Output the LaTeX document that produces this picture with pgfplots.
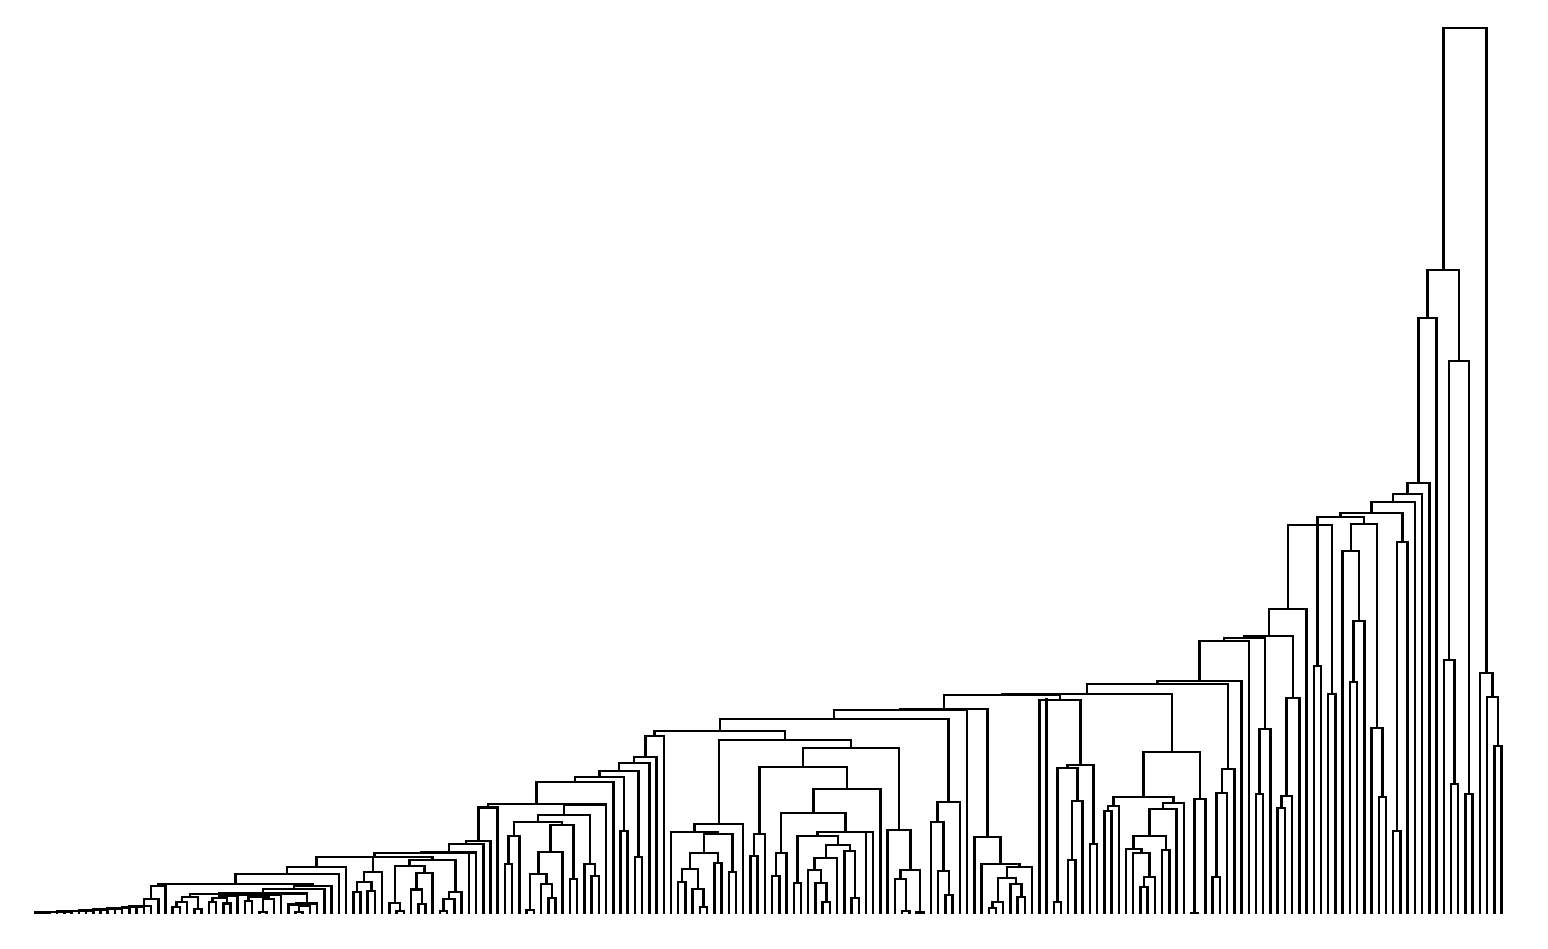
\documentclass[border=0pt]{standalone}
\usepackage{pgfplots}
\usepackage{pgfplotstable}
\pgfplotsset{compat=1.18}
% each row is one merge: left child (xl, height yl), right child (xr, height yr), merge height yt
% x = leaf index, heights in picture units (baseline 913, larger = lower)
\pgfplotstableread{
xl yl xr yr yt
0 913 1 913 912.6
0.5 912.6 2 913 912.4
1.25 912.4 3 913 912.2
2.125 912.2 4 913 912
3.06 912 5 913 911.6
4.03 911.6 6 913 911.2
5.02 911.2 7 913 910.8
6.01 910.8 8 913 910.4
7.0 910.4 9 913 910
8.0 910 10 913 909.5
9.0 909.5 11 913 909
10.0 909 12 913 908.5
11.0 908.5 13 913 908
12.0 908 14 913 907
13.0 907 15 913 906.5
14.0 906.5 16 913 906
15.0 906 17 913 899
16.0 899 18 913 886
19 913 20 913 906.7
19.5 906.7 21 913 901.7
22 913 23 913 909
20.25 901.7 22.5 909 897
24 913 25 913 901.7
26 913 27 913 903.3
24.5 901.7 26.5 903.3 898
25.5 898 28 913 896
29 913 30 913 900.7
31 913 32 913 911.7
31.5 911.7 33 913 899
29.5 900.7 32.25 899 896.7
30.88 896.7 34 913 895
26.75 896 32.44 895 894.5
21.38 897 29.6 894.5 894
36 913 37 913 911.7
36.5 911.7 38 913 906
35 913 37.25 906 904.5
36.13 904.5 39 913 903.3
25.49 894 37.56 903.3 893.3
31.53 893.3 40 913 889
35.76 889 41 913 886
17.0 886 38.38 886 884
27.69 884 42 913 874
34.85 874 43 913 866.7
44 913 45 913 892
46 913 47 913 891
44.5 892 46.5 891 882
45.5 882 48 913 872
46.75 872 46.75 872 857
50 913 51 913 910.7
49 913 50.5 910.7 902.7
53 913 54 913 904
52 913 53.5 904 889.3
52.75 889.3 55 913 872.7
49.75 902.7 53.88 872.7 866
56 913 57 913 910.7
56.5 910.7 58 913 899
57.25 899 59 913 892
51.81 866 58.13 892 860
38.92 866.7 54.97 860 857
46.95 857 60 913 853
53.47 853 61 913 852.3
57.24 852.3 62 913 844
59.62 844 63 913 840.7
61.31 840.7 64 913 807.3
65 913 66 913 864
65.5 864 67 913 836
68 913 69 913 910
71 913 72 913 898
70 913 71.5 898 884
68.5 910 70.75 884 874
69.63 874 73 913 852
74 913 75 913 879
71.31 852 74.5 879 825
66.25 836 72.91 825 822
77 913 78 913 876
76 913 77.5 876 864
69.58 822 76.75 864 815
73.17 815 79 913 804.3
62.65 807.3 76.08 804.3 804
69.37 804 80 913 782
81 913 82 913 831
74.68 782 81.5 831 777
83 913 84 913 857
78.09 777 83.5 857 771
80.8 771 85 913 763
82.9 763 86 913 757
84.45 757 87 913 736
89 913 90 913 882
92 913 93 913 907
91 913 92.5 907 889
89.5 882 91.75 889 869
94 913 95 913 863
90.63 869 94.5 863 853
96 913 97 913 872
92.56 853 96.5 872 834
88 913 94.53 834 832
91.27 832 98 913 824
99 913 100 913 856
99.5 856 101 913 834
102 913 103 913 876
102.5 876 104 913 853
105 913 106 913 883
109 913 110 913 902
108 913 109.5 902 883
107 913 108.75 883 870
107.88 870 111 913 858
113 913 114 913 898
112 913 113.5 898 851
109.44 858 112.75 851 845
105.5 883 111.1 845 836
108.3 836 116 913 832
115 913 115 913 832
103.25 853 112.15 832 813
107.7 813 117 913 789
100.25 834 112.35 789 767
120 913 121 913 911
119 913 120.5 911 879
122 913 123 913 912.5
119.75 879 122.5 912.5 870
118 913 121.13 870 830
106.3 767 119.56 830 748
94.63 824 112.93 748 740
85.72 736 103.78 740 731
126 913 127 913 895
125 913 126.5 895 871
124 913 125.75 871 822
124.88 822 128 913 802
94.75 731 126.44 802 719
110.6 719 129 913 710
132 913 133 913 908
132.5 908 134 913 902
136 913 137 913 897
135 913 136.5 897 884
133.25 902 135.75 884 878
134.5 878 138 913 867
131 913 136.25 867 864
130 913 133.63 864 837
119.8 710 131.81 837 709
141 913 142 913 902
143 913 144 913 860
143.5 860 145 913 801
141.5 902 144.25 801 768
146 913 147 913 844
142.88 768 146.5 844 765
139 913 144.69 765 700
140 913 140 913 699.3
125.8 709 141.85 700 695
148 913 149 913 811
148.5 811 150 913 806
153 913 154 913 887
153.5 887 155 913 877
152 913 154.25 877 853
151 913 153.13 853 849
156 913 157 913 850
152.06 849 156.5 850 836
154.28 836 158 913 809
156.14 809 159 913 803
149.25 806 157.57 803 797
160 913 161 913 913
160.5 913 162 913 799
153.41 797 161.25 799 752
133.8 695 157.33 752 694
163 913 164 913 877
163.5 877 165 913 793
164.25 793 166 913 769
145.56 694 165.13 769 684
155.34 684 167 913 681
161.17 681 168 913 641
169 913 170 913 794
169.5 794 171 913 729
164.59 641 170.25 729 638
172 913 173 913 808
172.5 808 174 913 796
173.25 796 175 913 698
167.42 638 174.13 698 636
170.77 636 176 913 609
179 913 180 913 694
173.39 609 179.5 694 525
177 913 178 913 666
182 913 183 913 682
182.5 682 184 913 621
181 913 183.25 621 551
186 913 187 913 797
185 913 186.5 797 728
182.13 551 185.75 728 524
177.5 666 183.94 524 517
188 913 189 913 831
188.5 831 190 913 542
180.72 517 189.25 542 513
184.98 513 191 913 502
187.99 502 192 913 494
189.99 494 193 913 483
191.5 483 194 913 318
196 913 197 913 784
195 913 196.5 784 660
198 913 199 913 794
195.75 660 198.5 794 361
192.75 318 197.13 361 270
202 913 203 913 746
201 913 202.5 746 697
200 913 201.75 697 673
194.94 270 200.88 673 28
}\links
\begin{document}
\begin{tikzpicture}
\begin{axis}[hide axis, scale only axis, width=15.48cm, height=9.48cm,
  xmin=-4.916, xmax=209.43, ymin=0, ymax=948, y dir=reverse, clip=false]
\path (rel axis cs:0,0) rectangle (rel axis cs:1,1);
\addplot[black, line width=0.7pt, line cap=rect, quiver={u=0, v=\thisrow{yt}-\thisrow{yl}}] table[x=xl, y=yl]{\links};
\addplot[black, line width=0.7pt, line cap=rect, quiver={u=0, v=\thisrow{yt}-\thisrow{yr}}] table[x=xr, y=yr]{\links};
\addplot[black, line width=0.7pt, line cap=rect, quiver={u=\thisrow{xr}-\thisrow{xl}, v=0}] table[x=xl, y=yt]{\links};
\end{axis}
\end{tikzpicture}
\end{document}
